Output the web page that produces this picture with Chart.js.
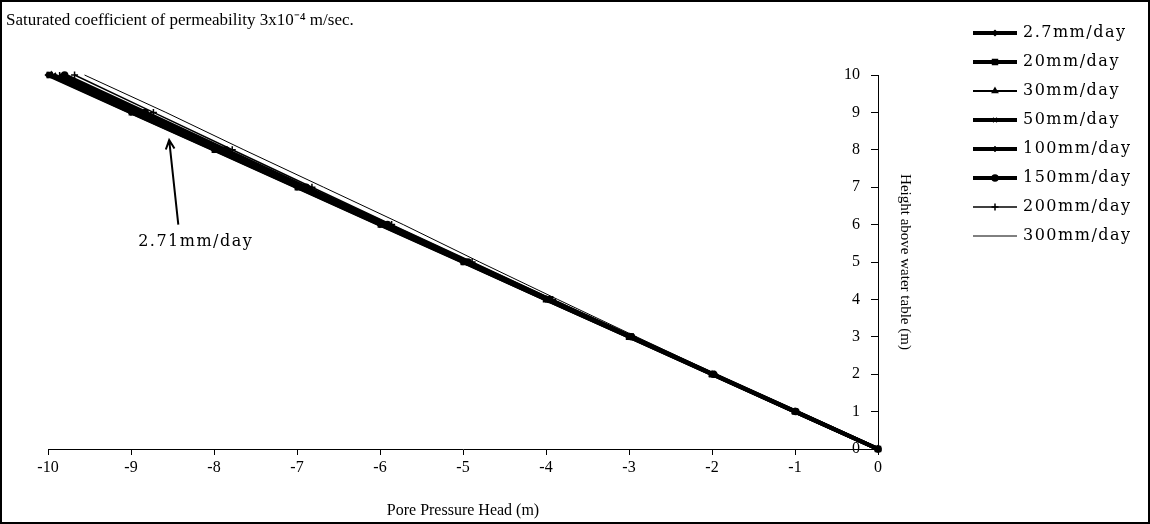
<!DOCTYPE html>
<html>
<head>
<meta charset="utf-8">
<script src="https://cdn.jsdelivr.net/npm/chart.js@4.4.1/dist/chart.umd.min.js"></script>
<style>
  html, body { margin: 0; padding: 0; background: #fff; }
  #wrap { position: relative; width: 1150px; height: 524px; }
  #wrap canvas { display: block; }
  #frame { position: absolute; left: 0; top: 0; right: 0; bottom: 0; border: 2px solid #000; pointer-events: none; }
</style>
</head>
<body>
<div id="wrap"><canvas id="myChart" width="1150" height="524"></canvas><div id="frame"></div></div>
<script>
(() => {
  'use strict'

  const serif = '"Liberation Serif", "Times New Roman", serif'
  const wideSerif = '"DejaVu Serif", serif'

  // height above the water table (m)
  const heights = [0, 1, 2, 3, 4, 5, 6, 7, 8, 9, 10]

  // pore pressure head (m) at each height, one list per infiltration rate
  const head2_7 = [0, -1, -2, -3, -4, -5, -6, -7, -8, -9, -10]
  const head20 = [0, -1, -2, -3, -4, -4.99, -5.99, -6.99, -7.99, -8.99, -9.98]
  const head30 = [0, -1, -2, -2.99, -3.99, -4.99, -5.98, -6.98, -7.98, -8.97, -9.96]
  const head50 = [0, -1, -1.99, -2.99, -3.99, -4.98, -5.97, -6.96, -7.95, -8.94, -9.93]
  const head100 = [0, -0.99, -1.99, -2.98, -3.97, -4.96, -5.94, -6.92, -7.9, -8.88, -9.86]
  const head150 = [0, -0.99, -1.98, -2.97, -3.96, -4.94, -5.91, -6.89, -7.86, -8.83, -9.8]
  const head200 = [0, -0.99, -1.97, -2.95, -3.92, -4.89, -5.86, -6.82, -7.78, -8.73, -9.68]
  const head300 = [0, -0.98, -1.95, -2.91, -3.86, -4.8, -5.72, -6.68, -7.64, -8.58, -9.56]

  const seriesNames = ['2.7mm/day', '20mm/day', '30mm/day', '50mm/day', '100mm/day', '150mm/day', '200mm/day', '300mm/day']
  const seriesHeads = [head2_7, head20, head30, head50, head100, head150, head200, head300]

  // line weight and marker for each series
  const styles = [
    { width: 4, point: 'rectRot', radius: 2.5, rotation: 0 },
    { width: 4, point: 'rect', radius: 3.5, rotation: 0 },
    { width: 2, point: 'triangle', radius: 3, rotation: 0 },
    { width: 4, point: 'crossRot', radius: 3, rotation: 0 },
    { width: 4, point: 'line', radius: 3, rotation: 90 },
    { width: 4, point: 'circle', radius: 3, rotation: 0 },
    { width: 1.5, point: 'cross', radius: 3.5, rotation: 0 },
    { width: 1, point: false, radius: 0, rotation: 0 }
  ]

  // arrow label pointing at the 2.7 mm/day line
  const noteText = '2.71mm/day'
  const noteTail = { x: -8.43, y: 6.0 }
  const noteTip = { x: -8.54, y: 8.26 }
  const noteLabel = { x: -8.22, y: 5.55 }

  const wideText = '1.5px'   // letter spacing of legend and note text
  const legendWidth = 188

  const datasets = seriesNames.map((name, i) => ({
    label: name,
    data: heights.map((h, j) => ({ x: seriesHeads[i][j], y: h })),
    showLine: true,
    borderColor: '#000',
    backgroundColor: '#000',
    borderWidth: styles[i].width,
    pointStyle: styles[i].point,
    pointRadius: styles[i].radius,
    pointRotation: styles[i].rotation,
    pointBorderWidth: 1.5,
    pointHoverRadius: styles[i].radius,
    tension: 0,
    clip: false
  }))

  // small line-plus-marker sample used as legend symbol
  const legendIcon = (s) => {
    const c = document.createElement('canvas')
    c.width = 44
    c.height = 12
    const g = c.getContext('2d')
    g.strokeStyle = '#000'
    g.fillStyle = '#000'
    g.lineWidth = s.width
    g.beginPath()
    g.moveTo(0, 6)
    g.lineTo(44, 6)
    g.stroke()
    if (s.point) {
      g.lineWidth = 1.5
      Chart.helpers.drawPoint(g, { pointStyle: s.point, radius: s.radius, rotation: s.rotation, borderWidth: 1.5 }, 22, 6)
    }
    return c
  }
  const icons = styles.map(legendIcon)

  // legend text is set wide; measure and draw it with the same spacing
  const wideLegend = {
    id: 'wideLegend',
    afterInit(chart) {
      const legend = chart.legend
      const fit = legend.fit.bind(legend)
      const draw = legend.draw.bind(legend)
      legend.fit = () => {
        chart.ctx.save()
        chart.ctx.letterSpacing = wideText
        fit()
        chart.ctx.restore()
        legend.width = legendWidth
      }
      legend.draw = () => {
        chart.ctx.save()
        chart.ctx.letterSpacing = wideText
        draw()
        chart.ctx.restore()
      }
    }
  }

  const notePlugin = {
    id: 'note',
    afterDatasetsDraw(chart) {
      const { ctx, scales: { x, y } } = chart
      const x0 = x.getPixelForValue(noteTail.x), y0 = y.getPixelForValue(noteTail.y)
      const x1 = x.getPixelForValue(noteTip.x), y1 = y.getPixelForValue(noteTip.y)
      const ang = Math.atan2(y1 - y0, x1 - x0)
      ctx.save()
      ctx.strokeStyle = '#000'
      ctx.lineWidth = 2
      ctx.beginPath()
      ctx.moveTo(x0, y0)
      ctx.lineTo(x1, y1)
      ctx.moveTo(x1 - 10 * Math.cos(ang - 0.45), y1 - 10 * Math.sin(ang - 0.45))
      ctx.lineTo(x1, y1)
      ctx.lineTo(x1 - 10 * Math.cos(ang + 0.45), y1 - 10 * Math.sin(ang + 0.45))
      ctx.stroke()
      ctx.fillStyle = '#000'
      ctx.font = '16px ' + wideSerif
      ctx.letterSpacing = wideText
      ctx.textAlign = 'center'
      ctx.textBaseline = 'middle'
      ctx.fillText(noteText, x.getPixelForValue(noteLabel.x), y.getPixelForValue(noteLabel.y))
      ctx.restore()
    }
  }

  Chart.defaults.font.family = serif
  Chart.defaults.color = '#000'

  const ctx = document.getElementById('myChart')
  // eslint-disable-next-line no-unused-vars
  const myChart = new Chart(ctx, {
    type: 'scatter',
    data: { datasets },
    plugins: [wideLegend, notePlugin],
    options: {
      responsive: false,
      animation: false,
      events: [],
      layout: { padding: { top: 12, left: 6, right: 0, bottom: 0 } },
      plugins: {
        title: {
          display: true,
          align: 'start',
          text: 'Saturated coefficient of permeability 3x10\u207B\u2074 m/sec.',
          font: { size: 17, weight: 'normal', lineHeight: 1 },
          padding: { top: 0, bottom: 46 }
        },
        legend: {
          position: 'right',
          align: 'start',
          labels: {
            usePointStyle: true,
            pointStyleWidth: 40,
            padding: 13,
            font: { size: 16, family: wideSerif },
            generateLabels(chart) {
              return Chart.defaults.plugins.legend.labels.generateLabels(chart)
                .map(item => ({ ...item, pointStyle: icons[item.datasetIndex], rotation: 0 }))
            }
          }
        },
        tooltip: { enabled: false }
      },
      scales: {
        x: {
          type: 'linear',
          position: 'bottom',
          min: -10,
          max: 0,
          ticks: { stepSize: 1, padding: 3, font: { size: 16 }, maxRotation: 0 },
          grid: { drawOnChartArea: false, tickLength: 6, color: '#000' },
          border: { color: '#000', width: 1 },
          title: { display: true, text: 'Pore Pressure Head (m)', font: { size: 16 }, padding: { top: 0, bottom: 4 } },
          afterFit(scale) { scale.height = 75 }
        },
        y: {
          type: 'linear',
          position: 'right',
          min: 0,
          max: 10,
          ticks: { stepSize: 1, mirror: true, padding: -18, font: { size: 16 } },
          grid: { drawOnChartArea: false, tickLength: -7, color: '#000' },
          border: { color: '#000', width: 1 },
          title: { display: true, text: 'Height above water table (m)', font: { size: 15 }, padding: { top: 48, bottom: 48 } },
          afterFit(scale) { scale.width = 84 }
        },
        yLeft: {
          type: 'linear',
          position: 'left',
          min: 0,
          max: 10,
          ticks: { display: false },
          grid: { display: false },
          border: { display: false },
          afterFit(scale) { scale.width = 42 }
        }
      }
    }
  })
})()
</script>
</body>
</html>
